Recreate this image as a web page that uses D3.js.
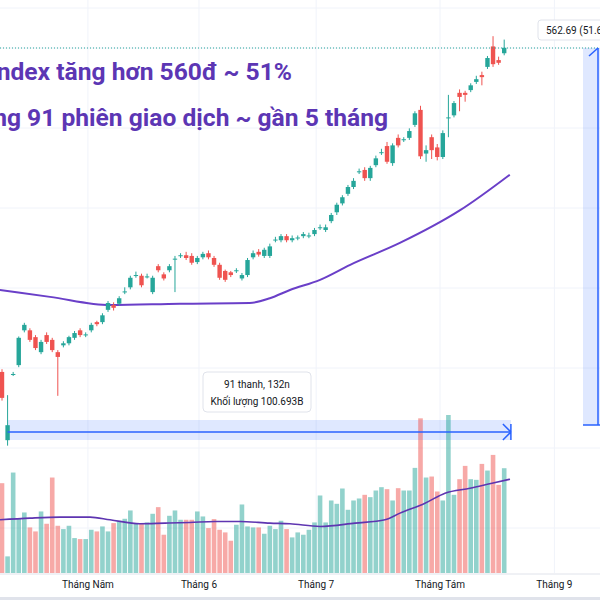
<!DOCTYPE html>
<html><head><meta charset="utf-8">
<script src="https://cdn.jsdelivr.net/npm/d3@7"></script>
<style>body{margin:0;background:#fff}svg{display:block}</style></head>
<body><svg id="c" width="600" height="600"></svg>
<script>
// gain vs start (points)
const opens  = [88,-12,84,98,149,149,139,117,142,135,117,127,130,138,149,142,149,161,161,179,186,188,205,212,229,229,227,205,243,231,237,253,258,259,258,249,256,262,255,245,236,234,236,225,230,256,264,258,258,281,281,287,281,284,287,287,290,299,296,309,322,335,349,359,381,384,372,391,409,419,394,431,428,431,450,472,408,432,417,403,460,464,497,497,501,513,523,535,565,545,555];
const closes = [50,10,85,138,157,135,123,132,132,120,110,130,139,145,142,143,157,158,171,189,182,196,206,226,230,215,228,226,237,225,243,254,259,255,248,255,261,256,245,226,223,230,237,230,252,262,260,267,272,282,287,281,284,285,290,288,296,300,300,318,333,344,359,368,382,372,387,401,410,396,420,420,429,441,467,404,413,413,403,438,461,482,491,494,508,517,520,548,539,541,563];
const highs  = [92,54,88,140,160,152,142,135,146,138,120,133,141,148,152,146,160,163,174,192,190,199,212,229,235,232,232,229,246,234,246,258,262,264,262,258,264,266,258,248,238,236,240,233,255,266,268,270,276,286,290,290,288,288,293,292,299,304,304,321,336,347,362,372,386,388,390,405,415,425,423,436,432,445,470,478,420,436,422,442,494,485,502,500,511,522,528,551,580,550,575];
const lows   = [46,-20,82,95,146,132,120,114,129,117,53,124,127,135,139,139,146,155,158,176,178,185,202,209,226,212,225,202,234,222,234,205,255,252,245,246,253,253,242,223,220,227,233,222,227,253,257,255,255,278,278,278,278,281,284,284,287,296,293,306,318,332,346,356,378,368,368,388,406,393,390,417,425,428,447,400,396,400,398,400,432,461,470,484,498,510,508,532,535,538,552];
const volumes= [270,50,302,165,182,137,125,185,148,287,142,132,142,105,102,102,130,125,140,125,150,155,163,188,150,150,152,178,198,115,172,188,160,160,160,185,170,135,162,130,122,97,145,206,140,137,137,118,142,132,157,132,107,122,115,130,152,233,152,218,208,254,190,218,224,235,228,248,258,252,218,255,248,248,316,465,287,290,245,218,475,235,282,322,282,280,328,308,355,265,315];
const priceMAIdx = [-0.4,8.6,19.4,31.9,44.4,48,51.6,57,62.4,71.3,82.1,91];
const priceMAVal = [208,198,186,188,189,196,208,223,245,277,325,377];
const volMA_x = [0,30,60,90,110,140,165,190,215,240,270,290,320,355,385,400,425,445,470,492,510];
const volMA_v = [160,165,168,168,160,148,150,152,155,155,150,148,140,150,160,180,210,240,255,270,282];
const monthLabels = ["Tháng Năm","Tháng 6","Tháng 7","Tháng Tám","Tháng 9"];
const monthIdx = [15.4,35.3,56.3,78.5,99];

const svg = d3.select("#c");
const x = d3.scaleLinear().domain([0,1]).range([2,7.58]);
const y = d3.scaleLinear().domain([0,562.69]).range([432,48]);
const yv = d3.scaleLinear().domain([0,475]).range([573,415]);
const xs = d3.scaleLinear().domain([0,600]).range([0,600]);
const up="#26a69a", dn="#ef5350";

const g0 = svg.append("g");
[8,48,128,208,288,368,448,528].forEach(v=>g0.append("line").attr("x1",0).attr("x2",600).attr("y1",v).attr("y2",v).attr("stroke","#f0f3fa"));
monthIdx.forEach(i=>g0.append("line").attr("x1",x(i)).attr("x2",x(i)).attr("y1",0).attr("y2",573).attr("stroke","#f0f3fa"));

svg.append("rect").attr("x",x(1)).attr("y",420).attr("width",x(91.2)-x(1)).attr("height",20).attr("fill","#2962ff").attr("opacity",0.15);
svg.append("rect").attr("x",583).attr("y",y(562.69)).attr("width",17).attr("height",425-y(562.69)).attr("fill","#2962ff").attr("opacity",0.15);

svg.append("g").selectAll("rect").data(volumes).join("rect")
  .attr("x",(d,i)=>x(i)-2.3).attr("width",4.6).attr("y",d=>yv(d)).attr("height",d=>573-yv(d))
  .attr("fill",(d,i)=>closes[i]>=opens[i]?up:dn).attr("opacity",0.5);
svg.append("path").datum(volMA_x.map((v,i)=>[v,volMA_v[i]]))
  .attr("d",d3.line().x(d=>xs(d[0])).y(d=>yv(d[1])).curve(d3.curveMonotoneX))
  .attr("fill","none").attr("stroke","#5e35b1").attr("stroke-width",1.6);

svg.append("path").datum(priceMAIdx.map((v,i)=>[v,priceMAVal[i]]))
  .attr("d",d3.line().x(d=>x(d[0])).y(d=>y(d[1])).curve(d3.curveMonotoneX))
  .attr("fill","none").attr("stroke","#6a3fc8").attr("stroke-width",2);

const cg = svg.append("g");
opens.forEach((o,i)=>{
  const c=closes[i], col=c>=o?up:dn;
  cg.append("line").attr("x1",x(i)).attr("x2",x(i)).attr("y1",y(highs[i])).attr("y2",y(lows[i])).attr("stroke",col);
  const t=Math.min(y(o),y(c)), h=Math.max(1,Math.abs(y(o)-y(c)));
  cg.append("rect").attr("x",x(i)-2.2).attr("width",4.4).attr("y",t).attr("height",h).attr("fill",col);
});

svg.append("line").attr("x1",0).attr("x2",600).attr("y1",y(562.69)).attr("y2",y(562.69)).attr("stroke",up).attr("stroke-dasharray","1,2");

const blue="#2962ff";
svg.append("line").attr("x1",x(1)).attr("x2",x(91.2)).attr("y1",y(0)).attr("y2",y(0)).attr("stroke",blue).attr("stroke-width",1.5);
svg.append("path").attr("d",`M${x(91.2)-8},${y(0)-8}L${x(91.2)},${y(0)}L${x(91.2)-8},${y(0)+8}M${x(91.2)},${y(0)-8}V${y(0)+8}`).attr("stroke",blue).attr("fill","none").attr("stroke-width",1.5);
svg.append("line").attr("x1",598).attr("x2",598).attr("y1",y(562.69)).attr("y2",425).attr("stroke",blue).attr("stroke-width",1.5);
svg.append("line").attr("x1",583).attr("x2",600).attr("y1",425).attr("y2",425).attr("stroke",blue).attr("stroke-width",1.5);
svg.append("path").attr("d",`M589,${y(562.69)+8}L598,${y(562.69)}`).attr("stroke",blue).attr("stroke-width",1.5);

svg.append("rect").attr("x",203).attr("y",372).attr("width",108).attr("height",40).attr("rx",4).attr("fill","#fff").attr("stroke","#e0e3eb");
svg.append("text").attr("x",257).attr("y",388).attr("text-anchor","middle").attr("font-family","Roboto,sans-serif").attr("font-size",10).attr("fill","#131722").text("91 thanh, 132n");
svg.append("text").attr("x",257).attr("y",405).attr("text-anchor","middle").attr("font-family","Roboto,sans-serif").attr("font-size",10).attr("fill","#131722").text("Khối lượng 100.693B");

svg.append("rect").attr("x",538).attr("y",20).attr("width",70).attr("height",20).attr("rx",3).attr("fill","#fff").attr("stroke","#e0e3eb");
svg.append("text").attr("x",546).attr("y",34).attr("font-family","Roboto,sans-serif").attr("font-size",10).attr("fill","#131722").text("562.69 (51.60%)");

const purple="#5c36b4";
svg.append("text").attr("x",292).attr("y",80).attr("text-anchor","end").attr("font-family","Roboto,sans-serif").attr("font-weight","bold").attr("font-size",24.6).attr("fill",purple).text("VN-Index tăng hơn 560đ ~ 51%");
svg.append("text").attr("x",388).attr("y",126).attr("text-anchor","end").attr("font-family","Roboto,sans-serif").attr("font-weight","bold").attr("font-size",24.6).attr("fill",purple).text("Trong 91 phiên giao dịch ~ gần 5 tháng");

svg.append("line").attr("x1",0).attr("x2",600).attr("y1",574).attr("y2",574).attr("stroke","#e0e3eb");
svg.append("rect").attr("x",0).attr("y",597).attr("width",600).attr("height",3).attr("fill","#e0e3eb");
monthLabels.forEach((m,i)=>svg.append("text").attr("x",x(monthIdx[i])).attr("y",588).attr("text-anchor","middle").attr("font-family","Roboto,sans-serif").attr("font-size",10).attr("fill","#131722").text(m));
</script></body></html>
